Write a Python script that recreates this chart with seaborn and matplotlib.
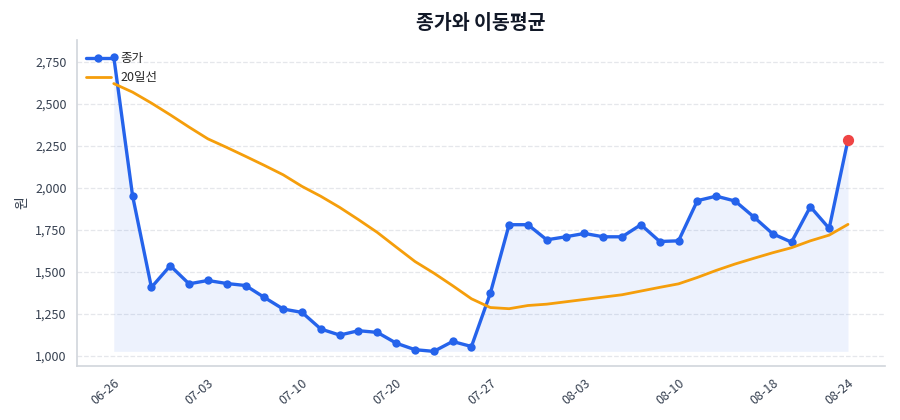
import matplotlib
matplotlib.use('Agg')

import matplotlib.pyplot as plt
import matplotlib.ticker as mticker
import numpy as np
import pandas as pd
import seaborn as sns

# === Data ===
close = [2780, 1952, 1407, 1536, 1428, 1448, 1430, 1418, 1347, 1278,
         1258, 1159, 1123, 1149, 1139, 1075, 1036, 1026, 1085, 1055,
         1371, 1780, 1780, 1690, 1708, 1728, 1708, 1708, 1780, 1680,
         1684, 1923, 1950, 1921, 1826, 1726, 1676, 1887, 1758, 2286]
ma20 = [2620, 2569, 2504, 2434, 2361, 2291, 2240, 2187, 2133, 2077,
        2008, 1949, 1883, 1810, 1734, 1647, 1561, 1492, 1417, 1339,
        1287, 1280, 1299, 1307, 1321, 1335, 1349, 1363, 1385, 1407,
        1428, 1466, 1508, 1546, 1580, 1613, 1643, 1684, 1718, 1782]
tick_pos = [0, 5, 10, 15, 20, 25, 30, 35, 39]
tick_labels = ["06-26", "07-03", "07-10", "07-20", "07-27",
               "08-03", "08-10", "08-18", "08-24"]

df = pd.DataFrame({"idx": np.arange(len(close)), "close": close, "ma20": ma20})

# === Style ===
sns.set_style("white")
plt.rcParams['font.family'] = ['Noto Sans CJK KR', 'DejaVu Sans']

BLUE = "#2563eb"
ORANGE = "#f59e0b"
RED = "#ef4444"

fig, ax = plt.subplots(figsize=(9, 4.2), dpi=100)

ax.fill_between(df["idx"], df["close"], df["close"].min(), color=BLUE, alpha=0.08, lw=0)
sns.lineplot(data=df, x="idx", y="close", ax=ax, color=BLUE, lw=2.4,
             marker="o", markersize=6, markeredgewidth=0, label="종가")
sns.lineplot(data=df, x="idx", y="ma20", ax=ax, color=ORANGE, lw=2, label="20일선")
ax.scatter(df["idx"].iloc[-1], df["close"].iloc[-1], s=50, color=RED, zorder=5)

ax.set_ylim(940, 2880)
ax.yaxis.set_major_locator(mticker.MultipleLocator(250))
ax.yaxis.set_major_formatter(mticker.StrMethodFormatter("{x:,.0f}"))
ax.set_xticks(tick_pos)
ax.set_xticklabels(tick_labels, rotation=40, ha="right", rotation_mode="anchor")
ax.tick_params(axis="both", labelsize=9, colors="#374151", length=4)
ax.tick_params(axis="both", color="#9ca3af")

ax.grid(axis="y", ls="--", color="#e5e7eb", lw=0.9)
ax.set_axisbelow(True)
sns.despine(ax=ax)
for s in ["left", "bottom"]:
    ax.spines[s].set_color("#d1d5db")
    ax.spines[s].set_linewidth(1.2)

ax.set_xlabel("")
ax.set_ylabel("원", fontsize=10, color="#374151")
ax.set_title("종가와 이동평균", fontsize=14, fontweight="bold", color="#111827", pad=8)
ax.legend(loc="upper left", bbox_to_anchor=(0, 0.99), frameon=False, fontsize=9,
          borderaxespad=0.5, handlelength=2, borderpad=0.2)

fig.subplots_adjust(left=0.0856, right=0.983, bottom=0.129, top=0.905)
plt.savefig("out.png")
